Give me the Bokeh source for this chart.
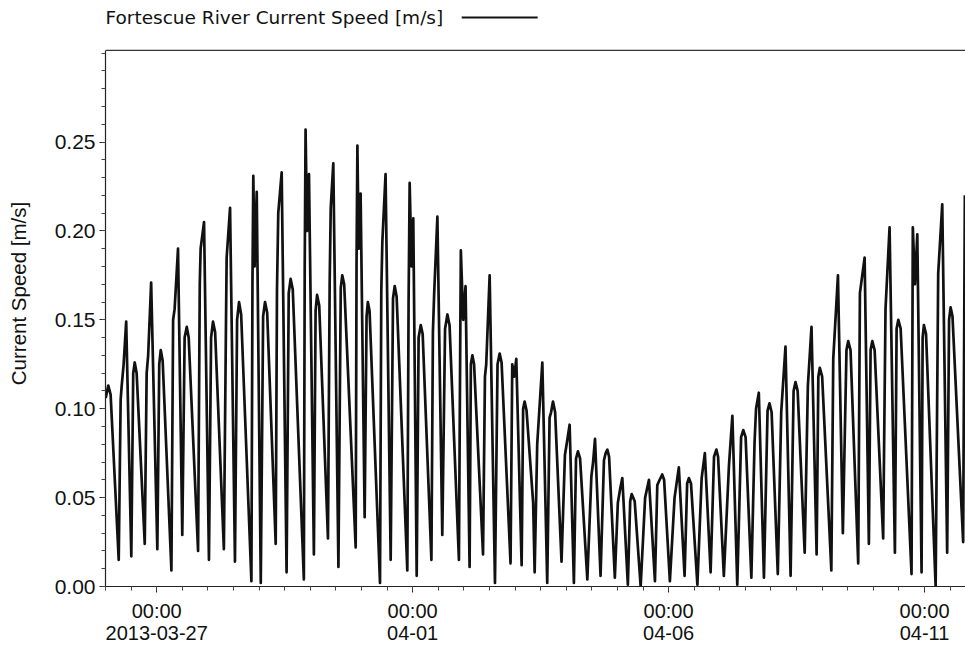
import pandas as pd
from bokeh.plotting import figure
from bokeh.models import FixedTicker, Range1d, PrintfTickFormatter, Span
from bokeh.core.properties import value
from bokeh.embed import file_html
from bokeh.resources import INLINE

# ---- data: hours after 2013-03-26 00:00 and current speed [m/s]
hours_a = [0.1, 1.3, 2.4, 6.2, 7.1, 7.6, 8.5, 9.7, 12.1, 13.0, 13.7, 14.6, 18.4, 19.3, 20.0, 21.4,
           24.3, 25.2, 25.9, 26.8, 30.9, 31.7, 32.4, 34.0, 36.0, 37.1, 38.1, 39.0, 43.4, 44.2, 44.6, 46.2, 48.5]
speed_a = [0.106, 0.113, 0.108, 0.015, 0.105, 0.113, 0.125, 0.149, 0.017, 0.120, 0.126, 0.120, 0.024, 0.120, 0.130, 0.171,
           0.021, 0.125, 0.133, 0.127, 0.009, 0.150, 0.156, 0.190, 0.029, 0.140, 0.146, 0.140, 0.020, 0.170, 0.190, 0.205, 0.015]

hours_b = [49.5, 50.4, 51.4, 55.5, 56.5, 56.8, 58.4, 60.7, 61.7, 62.6, 63.6, 68.4, 68.9, 69.3, 69.9, 70.9, 72.8,
           73.9, 74.8, 75.8, 79.8, 80.4, 81.0, 82.6, 84.9, 85.9, 86.8, 87.8, 93.0, 93.4, 93.8, 94.5, 95.4, 97.7]
speed_b = [0.140, 0.149, 0.143, 0.021, 0.150, 0.185, 0.213, 0.014, 0.150, 0.160, 0.153, 0.003, 0.170, 0.231, 0.180, 0.222, 0.002,
           0.152, 0.160, 0.154, 0.024, 0.167, 0.210, 0.233, 0.008, 0.165, 0.173, 0.167, 0.004, 0.179, 0.257, 0.200, 0.232, 0.018]

hours_c = [98.5, 99.2, 100.2, 104.3, 105.1, 105.6, 106.8, 109.2, 110.3, 111.0, 111.9, 117.3, 117.7, 118.1, 118.7, 119.6, 121.5,
           122.4, 123.0, 123.8, 128.7, 129.3, 129.8, 131.3, 133.7, 134.8, 135.6, 136.5, 141.5, 142.1, 142.6, 143.5, 144.3, 145.9]
speed_c = [0.155, 0.164, 0.158, 0.027, 0.171, 0.213, 0.238, 0.011, 0.168, 0.175, 0.170, 0.022, 0.182, 0.248, 0.190, 0.221, 0.039,
           0.152, 0.160, 0.155, 0.002, 0.166, 0.194, 0.232, 0.015, 0.162, 0.169, 0.163, 0.009, 0.160, 0.227, 0.180, 0.207, 0.006]

hours_d = [146.8, 147.8, 148.7, 152.8, 153.5, 154.1, 155.6, 157.9, 159.2, 160.3, 161.3, 165.7, 166.3, 166.6, 167.7, 168.8, 170.7,
           171.3, 172.0, 172.8, 177.0, 177.9, 178.5, 180.1, 182.6, 183.8, 184.8, 185.7, 189.9, 190.7, 191.6, 192.6, 195.1]
speed_d = [0.140, 0.147, 0.142, 0.015, 0.143, 0.165, 0.208, 0.029, 0.145, 0.153, 0.147, 0.015, 0.135, 0.189, 0.150, 0.169, 0.011,
           0.125, 0.130, 0.125, 0.018, 0.118, 0.125, 0.175, 0.002, 0.125, 0.131, 0.126, 0.013, 0.125, 0.118, 0.128, 0.012]

hours_e = [195.8, 196.5, 197.4, 200.5, 201.2, 202.4, 204.8, 207.1, 208.2, 208.9, 209.8, 210.8, 213.8, 215.4, 216.2, 217.6, 219.6,
           220.6, 221.5, 222.5, 225.9, 227.8, 228.6, 229.5, 232.1, 233.7, 234.5, 235.3, 236.1, 238.8, 240.2, 241.3, 242.3, 244.9]
speed_e = [0.100, 0.104, 0.099, 0.047, 0.008, 0.080, 0.126, 0.002, 0.095, 0.098, 0.104, 0.098, 0.014, 0.074, 0.080, 0.091, 0.002,
           0.072, 0.076, 0.072, 0.004, 0.062, 0.070, 0.083, 0.006, 0.071, 0.075, 0.077, 0.073, 0.005, 0.047, 0.055, 0.061, 0.001]

hours_f = [246.0, 246.7, 248.1, 250.9, 253.0, 254.8, 257.6, 258.7, 259.8, 261.0, 261.9, 264.6, 266.8, 268.8,
           271.5, 272.7, 273.5, 274.5, 277.5, 279.5, 281.0, 283.7, 285.3, 286.4, 287.2, 289.9, 292.3, 293.9]
speed_f = [0.048, 0.052, 0.048, 0.000, 0.050, 0.060, 0.003, 0.057, 0.060, 0.063, 0.060, 0.003, 0.050, 0.067,
           0.006, 0.058, 0.061, 0.058, 0.001, 0.061, 0.075, 0.008, 0.073, 0.077, 0.073, 0.006, 0.068, 0.096]

hours_g = [296.2, 298.0, 299.0, 300.1, 302.8, 304.3, 305.0, 306.3, 308.7, 310.4, 311.3, 312.3, 315.2, 316.8, 318.8,
           321.2, 322.6, 323.5, 324.5, 327.8, 329.3, 331.0, 333.4, 334.2, 334.9, 336.0, 340.3, 341.2, 343.4]
speed_g = [0.001, 0.084, 0.088, 0.084, 0.005, 0.081, 0.100, 0.109, 0.005, 0.099, 0.103, 0.098, 0.007, 0.098, 0.135,
           0.006, 0.110, 0.115, 0.110, 0.019, 0.113, 0.146, 0.018, 0.118, 0.123, 0.118, 0.009, 0.128, 0.175]

hours_h = [345.7, 347.4, 348.2, 349.3, 352.9, 353.7, 355.9, 357.9, 358.7, 359.5, 360.6, 364.6, 365.7, 367.6, 370.1, 370.9, 371.7,
           372.8, 377.9, 378.5, 379.5, 380.6, 382.6, 383.1, 383.7, 384.7, 389.2, 390.4, 392.3, 394.6, 395.5, 396.2, 397.1, 402.1, 402.9]
speed_h = [0.030, 0.133, 0.138, 0.133, 0.013, 0.165, 0.185, 0.024, 0.133, 0.138, 0.133, 0.027, 0.156, 0.202, 0.019, 0.145, 0.150,
           0.145, 0.007, 0.202, 0.170, 0.198, 0.008, 0.140, 0.147, 0.142, 0.000, 0.176, 0.215, 0.019, 0.150, 0.157, 0.152, 0.025, 0.220]

series_name = "Fortescue River Current Speed [m/s]"
y_label = "Current Speed [m/s]"
x_tick_dates = ["2013-03-27", "2013-04-01", "2013-04-06", "2013-04-11"]
x_tick_labels = ["00:00\n2013-03-27", "00:00\n04-01", "00:00\n04-06", "00:00\n04-11"]
y_ticks = [0.00, 0.05, 0.10, 0.15, 0.20, 0.25]

hours = hours_a + hours_b + hours_c + hours_d + hours_e + hours_f + hours_g + hours_h
speed = speed_a + speed_b + speed_c + speed_d + speed_e + speed_f + speed_g + speed_h

t0 = pd.Timestamp("2013-03-26 00:00")
times = [t0 + pd.Timedelta(hours=h) for h in hours]

def ms(ts):
    return float(pd.Timestamp(ts).value // 10**6)

FONT = "Liberation Sans"
LEGEND_FONT = "DejaVu Sans"

# layout: the frame reaches the top of the canvas; the visible box ends at Y_TOP,
# and the legend row sits in the strip above it
Y_TOP = 0.3016      # top edge of the drawn box
Y_MAX = 0.3296      # top of the canvas
LEG_Y = 0.3201      # legend row
LEG_TEXT_H = 0.0    # legend text start (hours)
LEG_LINE_H = (167.0, 202.6)  # legend line sample (hours)

p = figure(width=965, height=646, x_axis_type="datetime", output_backend="svg", toolbar_location=None,
           title=None,
           x_range=Range1d(t0, t0 + pd.Timedelta(hours=403.2)), y_range=Range1d(0, Y_MAX),
           min_border_left=105, min_border_right=0, min_border_top=0, min_border_bottom=58)
p.grid.visible = False
p.background_fill_color = "white"
p.border_fill_color = "white"
p.outline_line_color = None

p.line(times, speed, line_color="#111111", line_width=2.7, line_join="round")

# top edge of the box
p.add_layout(Span(location=Y_TOP, dimension="width", line_color="#333333", line_width=1.2))

# legend: text then line sample
p.text(x=[t0 + pd.Timedelta(hours=LEG_TEXT_H)], y=[LEG_Y], text=[series_name],
       text_font=value(LEGEND_FONT), text_font_size="18.5px", text_baseline="middle", text_align="left",
       text_color="#111111")
p.line(x=[t0 + pd.Timedelta(hours=LEG_LINE_H[0]), t0 + pd.Timedelta(hours=LEG_LINE_H[1])], y=[LEG_Y, LEG_Y],
       line_color="#111111", line_width=2)

# x axis
major_x = [ms(d) for d in x_tick_dates]
minor_x = [ms(t0 + pd.Timedelta(hours=12 * i)) for i in range(0, 35)]
p.xaxis.ticker = FixedTicker(ticks=major_x, minor_ticks=minor_x)
p.xaxis.major_label_overrides = {k: v for k, v in zip(major_x, x_tick_labels)}

# y axis
p.yaxis.ticker = FixedTicker(ticks=y_ticks, minor_ticks=[round(0.01 * i, 2) for i in range(0, 31)])
p.yaxis.formatter = PrintfTickFormatter(format="%.2f")
p.yaxis.bounds = (0, Y_TOP)
p.yaxis.axis_label = y_label

for ax in (p.xaxis[0], p.yaxis[0]):
    ax.axis_line_color = "#222222"
    ax.axis_line_width = 1.2
    ax.major_tick_line_color = "#222222"
    ax.minor_tick_line_color = "#444444"
    ax.major_tick_in = 0
    ax.major_tick_out = 6
    ax.minor_tick_in = 0
    ax.minor_tick_out = 4
    ax.major_label_text_font = FONT
    ax.major_label_text_color = "#111111"

p.xaxis.major_label_text_font_size = "20px"
p.yaxis.major_label_text_font_size = "21px"
p.xaxis.major_label_standoff = 7
p.xaxis.major_label_text_line_height = 1.0
p.yaxis.major_label_standoff = 4
p.yaxis.axis_label_text_font = FONT
p.yaxis.axis_label_text_font_size = "20.5px"
p.yaxis.axis_label_text_font_style = "normal"
p.yaxis.axis_label_text_color = "#111111"
p.yaxis.axis_label_standoff = 22

open("out.html", "w").write(file_html(p, INLINE))
